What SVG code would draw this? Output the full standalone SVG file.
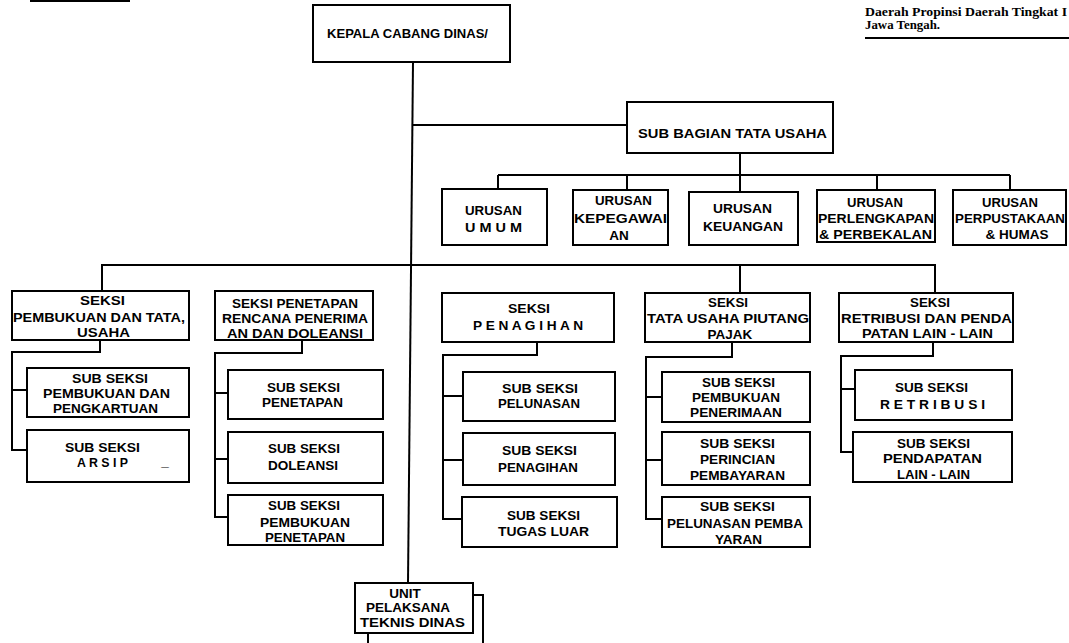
<svg xmlns="http://www.w3.org/2000/svg" width="1069" height="643" viewBox="0 0 1069 643">
<style>
.b{fill:#fff;stroke:#000;stroke-width:2}
.c{fill:none;stroke:#000;stroke-width:2}
text{font-family:"Liberation Sans",Arial,sans-serif;font-weight:bold;font-size:13.5px;fill:#000;text-anchor:middle}
.hd{font-family:"Liberation Serif","Times New Roman",serif;font-size:11.5px;text-anchor:start}
</style>
<rect width="1069" height="643" fill="#fff"/>
<g id="header">
<path class="c" d="M30,1 H130"/>
<text class="hd" x="865" y="16" textLength="202" lengthAdjust="spacingAndGlyphs">Daerah Propinsi Daerah Tingkat I</text>
<text class="hd" x="865" y="29" textLength="75" lengthAdjust="spacingAndGlyphs">Jawa Tengah.</text>
<path class="c" d="M865,38 H1069"/>
</g>
<g id="connectors">
<path class="c" d="M413,62 L408,583"/>
<path class="c" d="M412,125 H627"/>
<path class="c" d="M740,153 V175 M498,175 H1010 M498,175 V189 M627,175 V190 M740,175 V192 M877,175 V190 M1010,175 V190"/>
<path class="c" d="M102,265 H935 M102,264 V291 M740,265 V293 M935,264 V293"/>
<path class="c" d="M100,340 V352 H12 V450 H27 M12,390 H27"/>
<path class="c" d="M302,340 V353 H215 V517 H228 M215,393 H228 M215,459 H228"/>
<path class="c" d="M537,342 V355 H443 V519 H462 M443,396 H463 M443,460 H463"/>
<path class="c" d="M732,342 V357 H646 V519 H662 M646,397 H662 M646,460 H662"/>
<path class="c" d="M933,342 V356 H841 V452 H853 M841,389 H855"/>
<path class="c" d="M473,595 H483 V643 M368,633 V643"/>
</g>
<g id="kepala">
<rect class="b" x="313" y="5" width="197" height="57"/>
<text x="407.5" y="38" textLength="161" lengthAdjust="spacingAndGlyphs">KEPALA CABANG DINAS/</text>
</g>
<g id="sub-bagian">
<rect class="b" x="627" y="102" width="206" height="51"/>
<text x="732.5" y="138" textLength="189" lengthAdjust="spacingAndGlyphs">SUB BAGIAN TATA USAHA</text>
</g>
<g id="urusan-umum">
<rect class="b" x="442" y="189" width="105" height="56"/>
<text x="493.5" y="215" textLength="57" lengthAdjust="spacingAndGlyphs">URUSAN</text>
<text x="493.5" y="232" textLength="57" lengthAdjust="spacingAndGlyphs">U M U M</text>
</g>
<g id="urusan-kepegawaian">
<rect class="b" x="573" y="190" width="95" height="55"/>
<text x="623.5" y="205" textLength="57" lengthAdjust="spacingAndGlyphs">URUSAN</text>
<text x="620.5" y="223" textLength="93" lengthAdjust="spacingAndGlyphs">KEPEGAWAI</text>
<text x="619" y="240">AN</text>
</g>
<g id="urusan-keuangan">
<rect class="b" x="689" y="192" width="109" height="53"/>
<text x="742.5" y="213" textLength="59" lengthAdjust="spacingAndGlyphs">URUSAN</text>
<text x="743" y="231" textLength="80" lengthAdjust="spacingAndGlyphs">KEUANGAN</text>
</g>
<g id="urusan-perlengkapan">
<rect class="b" x="817" y="190" width="118" height="52"/>
<text x="875" y="207" textLength="56" lengthAdjust="spacingAndGlyphs">URUSAN</text>
<text x="876" y="223" textLength="116" lengthAdjust="spacingAndGlyphs">PERLENGKAPAN</text>
<text x="875.5" y="239" textLength="113" lengthAdjust="spacingAndGlyphs">&amp; PERBEKALAN</text>
</g>
<g id="urusan-perpustakaan">
<rect class="b" x="953" y="190" width="113" height="55"/>
<text x="1010" y="207" textLength="56" lengthAdjust="spacingAndGlyphs">URUSAN</text>
<text x="1010" y="223" textLength="110" lengthAdjust="spacingAndGlyphs">PERPUSTAKAAN</text>
<text x="1017" y="239">&amp; HUMAS</text>
</g>
<g id="seksi-pembukuan">
<rect class="b" x="12" y="291" width="177" height="49"/>
<text x="102.5" y="305" textLength="45" lengthAdjust="spacingAndGlyphs">SEKSI</text>
<text x="99" y="322" textLength="172" lengthAdjust="spacingAndGlyphs">PEMBUKUAN DAN TATA,</text>
<text x="103.5" y="337" textLength="53" lengthAdjust="spacingAndGlyphs">USAHA</text>
</g>
<g id="seksi-penetapan">
<rect class="b" x="215" y="291" width="158" height="49"/>
<text x="295" y="307.5" textLength="126" lengthAdjust="spacingAndGlyphs">SEKSI PENETAPAN</text>
<text x="295" y="322.5" textLength="146" lengthAdjust="spacingAndGlyphs">RENCANA PENERIMA</text>
<text x="295" y="337.5" textLength="136" lengthAdjust="spacingAndGlyphs">AN DAN DOLEANSI</text>
</g>
<g id="seksi-penagihan">
<rect class="b" x="442" y="293" width="172" height="49"/>
<text x="529" y="313" textLength="42" lengthAdjust="spacingAndGlyphs">SEKSI</text>
<text x="528" y="330" textLength="110" lengthAdjust="spacingAndGlyphs">P E N A G I H A N</text>
</g>
<g id="seksi-tata-usaha-piutang">
<rect class="b" x="645" y="293" width="165" height="49"/>
<text x="728" y="307" textLength="40" lengthAdjust="spacingAndGlyphs">SEKSI</text>
<text x="728" y="323" textLength="162" lengthAdjust="spacingAndGlyphs">TATA USAHA PIUTANG</text>
<text x="730" y="339">PAJAK</text>
</g>
<g id="seksi-retribusi">
<rect class="b" x="839" y="293" width="174" height="49"/>
<text x="930" y="306.5" textLength="40" lengthAdjust="spacingAndGlyphs">SEKSI</text>
<text x="926.5" y="322.5" textLength="171" lengthAdjust="spacingAndGlyphs">RETRIBUSI DAN PENDA</text>
<text x="927.5" y="337.5" textLength="131" lengthAdjust="spacingAndGlyphs">PATAN LAIN - LAIN</text>
</g>
<g id="sub-pengkartuan">
<rect class="b" x="27" y="368" width="162" height="49"/>
<text x="110" y="383" textLength="76" lengthAdjust="spacingAndGlyphs">SUB SEKSI</text>
<text x="106.5" y="398" textLength="127" lengthAdjust="spacingAndGlyphs">PEMBUKUAN DAN</text>
<text x="105.5" y="413" textLength="105" lengthAdjust="spacingAndGlyphs">PENGKARTUAN</text>
</g>
<g id="sub-arsip">
<rect class="b" x="27" y="430" width="162" height="52"/>
<text x="102.5" y="452" textLength="75" lengthAdjust="spacingAndGlyphs">SUB SEKSI</text>
<text x="102.5" y="467" textLength="51" lengthAdjust="spacingAndGlyphs">A R S I P</text>
<text x="165" y="466">_</text>
</g>
<g id="sub-penetapan">
<rect class="b" x="228" y="370" width="155" height="49"/>
<text x="303.5" y="392" textLength="73" lengthAdjust="spacingAndGlyphs">SUB SEKSI</text>
<text x="302.5" y="407" textLength="81" lengthAdjust="spacingAndGlyphs">PENETAPAN</text>
</g>
<g id="sub-doleansi">
<rect class="b" x="228" y="432" width="155" height="51"/>
<text x="304" y="453" textLength="72" lengthAdjust="spacingAndGlyphs">SUB SEKSI</text>
<text x="303" y="470" textLength="70" lengthAdjust="spacingAndGlyphs">DOLEANSI</text>
</g>
<g id="sub-pembukuan-penetapan">
<rect class="b" x="228" y="495" width="155" height="50"/>
<text x="304" y="510" textLength="72" lengthAdjust="spacingAndGlyphs">SUB SEKSI</text>
<text x="305" y="526.5" textLength="90" lengthAdjust="spacingAndGlyphs">PEMBUKUAN</text>
<text x="305" y="541.5" textLength="80" lengthAdjust="spacingAndGlyphs">PENETAPAN</text>
</g>
<g id="sub-pelunasan">
<rect class="b" x="463" y="372" width="152" height="49"/>
<text x="540" y="393" textLength="76" lengthAdjust="spacingAndGlyphs">SUB SEKSI</text>
<text x="539" y="408" textLength="82" lengthAdjust="spacingAndGlyphs">PELUNASAN</text>
</g>
<g id="sub-penagihan">
<rect class="b" x="463" y="433" width="152" height="52"/>
<text x="539.5" y="455" textLength="75" lengthAdjust="spacingAndGlyphs">SUB SEKSI</text>
<text x="538" y="472" textLength="80" lengthAdjust="spacingAndGlyphs">PENAGIHAN</text>
</g>
<g id="sub-tugas-luar">
<rect class="b" x="462" y="497" width="155" height="50"/>
<text x="543.5" y="520" textLength="73" lengthAdjust="spacingAndGlyphs">SUB SEKSI</text>
<text x="543.5" y="536" textLength="91" lengthAdjust="spacingAndGlyphs">TUGAS LUAR</text>
</g>
<g id="sub-pembukuan-penerimaan">
<rect class="b" x="662" y="372" width="148" height="50"/>
<text x="738.5" y="387" textLength="73" lengthAdjust="spacingAndGlyphs">SUB SEKSI</text>
<text x="736" y="402" textLength="88" lengthAdjust="spacingAndGlyphs">PEMBUKUAN</text>
<text x="736" y="417" textLength="92" lengthAdjust="spacingAndGlyphs">PENERIMAAN</text>
</g>
<g id="sub-perincian">
<rect class="b" x="662" y="432" width="148" height="53"/>
<text x="737.5" y="448" textLength="75" lengthAdjust="spacingAndGlyphs">SUB SEKSI</text>
<text x="737.5" y="464" textLength="75" lengthAdjust="spacingAndGlyphs">PERINCIAN</text>
<text x="737.5" y="480" textLength="95" lengthAdjust="spacingAndGlyphs">PEMBAYARAN</text>
</g>
<g id="sub-pelunasan-pembayaran">
<rect class="b" x="662" y="497" width="148" height="50"/>
<text x="737.5" y="511" textLength="75" lengthAdjust="spacingAndGlyphs">SUB SEKSI</text>
<text x="735" y="528" textLength="136" lengthAdjust="spacingAndGlyphs">PELUNASAN PEMBA</text>
<text x="738.5" y="543.5" textLength="47" lengthAdjust="spacingAndGlyphs">YARAN</text>
</g>
<g id="sub-retribusi">
<rect class="b" x="855" y="370" width="157" height="50"/>
<text x="931.5" y="392" textLength="73" lengthAdjust="spacingAndGlyphs">SUB SEKSI</text>
<text x="932.5" y="409" textLength="105" lengthAdjust="spacingAndGlyphs">R E T R I B U S I</text>
</g>
<g id="sub-pendapatan">
<rect class="b" x="853" y="432" width="159" height="50"/>
<text x="933.5" y="448" textLength="73" lengthAdjust="spacingAndGlyphs">SUB SEKSI</text>
<text x="932.5" y="463" textLength="99" lengthAdjust="spacingAndGlyphs">PENDAPATAN</text>
<text x="933.5" y="479" textLength="73" lengthAdjust="spacingAndGlyphs">LAIN - LAIN</text>
</g>
<g id="unit-pelaksana">
<rect class="b" x="355" y="583" width="118" height="50"/>
<text x="405" y="598">UNIT</text>
<text x="408" y="612">PELAKSANA</text>
<text x="412.5" y="627" textLength="105" lengthAdjust="spacingAndGlyphs">TEKNIS DINAS</text>
</g>
</svg>
